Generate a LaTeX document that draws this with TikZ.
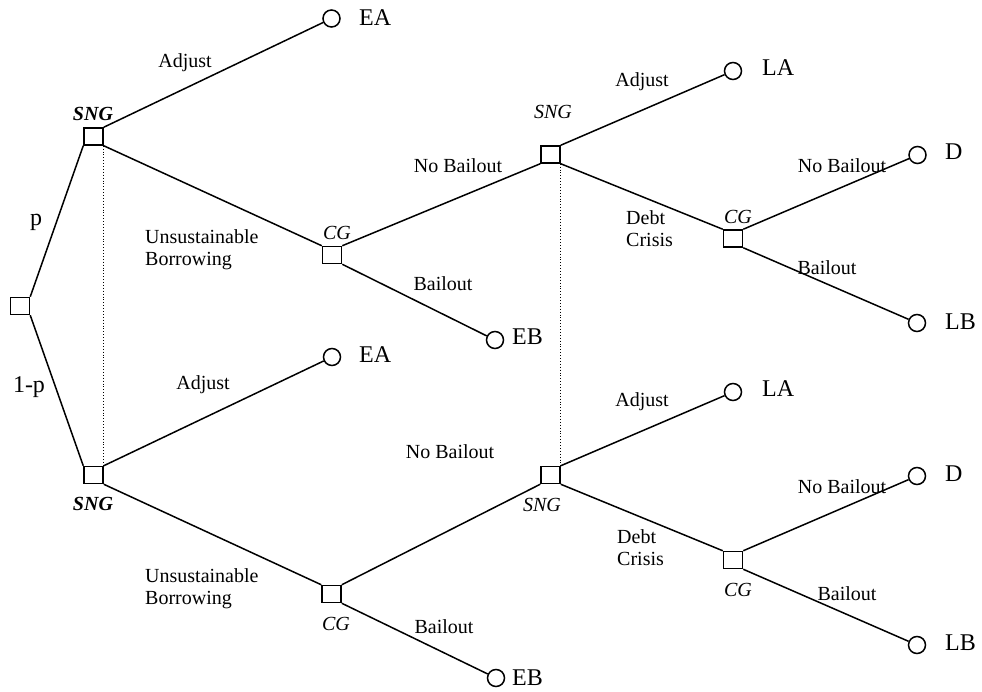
\documentclass[tikz,border=0pt]{standalone}
\usepackage{fontspec}
\setmainfont{Liberation Serif}
\begin{document}
\begin{tikzpicture}[x=1pt,y=-1pt,
 sq/.style={draw,line width=1.5pt,minimum width=19pt,minimum height=17pt,inner sep=0pt},
 term/.style={draw,circle,line width=1.5pt,minimum size=17pt,inner sep=0pt},
 br/.style={line width=1.5pt},
 info/.style={dotted,line width=0.9pt},
 lab/.style={inner sep=0pt,font=\fontsize{20}{22}\selectfont},
 tlab/.style={inner sep=0pt,anchor=west,font=\fontsize{24}{26}\selectfont},
 pl/.style={inner sep=0pt,font=\fontsize{20}{22}\selectfont\itshape},
 plb/.style={inner sep=0pt,font=\fontsize{20}{22}\selectfont\bfseries\itshape},
 ml/.style={inner sep=0pt,anchor=west,align=left,font=\fontsize{20}{22}\selectfont}]
\useasboundingbox (0,0) rectangle (982,692);

% decision squares
\node[sq] (r)  at (20,306) {};
\node[sq] (s1) at (93.5,136.5) {};
\node[sq] (s2) at (93.5,475) {};
\node[sq] (c1) at (332,255) {};
\node[sq] (c2) at (331.5,594) {};
\node[sq] (m1) at (550.5,154.5) {};
\node[sq] (m2) at (550.5,475) {};
\node[sq] (k1) at (733,238.5) {};
\node[sq] (k2) at (733,560) {};

% terminal circles
\node[term] (ea1) at (331.5,18.5) {};
\node[term] (eb1) at (495,340) {};
\node[term] (la1) at (733,71) {};
\node[term] (d1)  at (917.5,155) {};
\node[term] (lb1) at (917,323) {};
\node[term] (ea2) at (332,357) {};
\node[term] (eb2) at (496,678) {};
\node[term] (la2) at (733,392) {};
\node[term] (d2)  at (917,476) {};
\node[term] (lb2) at (917,645) {};

% terminal labels
\node[tlab] (tea1) at (359,18) {EA};
\node[tlab] (teb1) at (512,337) {EB};
\node[tlab] (tla1) at (762,68) {LA};
\node[tlab] (td1)  at (945,152) {D};
\node[tlab] (tlb1) at (945,322) {LB};
\node[tlab] (tea2) at (359,355) {EA};
\node[tlab] (teb2) at (512,678) {EB};
\node[tlab] (tla2) at (762,389) {LA};
\node[tlab] (td2)  at (945,474) {D};
\node[tlab] (tlb2) at (945,643) {LB};

% branches
\draw[br] (r.north east) -- (s1.south west);
\draw[br] (r.south east) -- (s2.north west);
\draw[br] (s1.north east) -- (ea1);
\draw[br] (s1.south east) -- (c1.north west);
\draw[br] (c1.north east) -- (m1.south west);
\draw[br] (c1.south east) -- (eb1);
\draw[br] (m1.north east) -- (la1);
\draw[br] (m1.south east) -- (k1.north west);
\draw[br] (k1.north east) -- (d1);
\draw[br] (k1.south east) -- (lb1);
\draw[br] (s2.north east) -- (ea2);
\draw[br] (s2.south east) -- (c2.north west);
\draw[br] (c2.north east) -- (m2.south west);
\draw[br] (c2.south east) -- (eb2);
\draw[br] (m2.north east) -- (la2);
\draw[br] (m2.south east) -- (k2.north west);
\draw[br] (k2.north east) -- (d2);
\draw[br] (k2.south east) -- (lb2);

% information sets
\draw[info] (s1.south east) -- (s2.north east);
\draw[info] (m1.south east) -- (m2.north east);

% player labels
\node[plb] (ps1) at (93,114) {SNG};
\node[plb] (ps2) at (93,504) {SNG};
\node[pl] (pc1) at (337,233) {CG};
\node[pl] (pc2) at (336,624) {CG};
\node[pl] (pm1) at (553,112) {SNG};
\node[pl] (pm2) at (542,505) {SNG};
\node[pl] (pk1) at (738,217) {CG};
\node[pl] (pk2) at (738,590) {CG};

% probabilities
\node[inner sep=0pt,font=\fontsize{24}{26}\selectfont] (pp) at (36,222) {p};
\node[inner sep=0pt,font=\fontsize{24}{26}\selectfont] (pq) at (29,387) {1-p};

% action labels
\node[lab] (a1) at (185,63) {Adjust};
\node[ml] (u1) at (145,250) {Unsustainable\\Borrowing};
\node[lab] (nb1) at (458,166) {No Bailout};
\node[lab] (b1) at (443,284) {Bailout};
\node[lab] (a2) at (642,82) {Adjust};
\node[ml] (dc1) at (626,229) {Debt\\Crisis};
\node[lab] (nb2) at (842,166) {No Bailout};
\node[lab] (b2) at (827,268) {Bailout};

\node[lab] (a3) at (203,385) {Adjust};
\node[ml] (u2) at (145,589) {Unsustainable\\Borrowing};
\node[lab] (nb3) at (450,452) {No Bailout};
\node[lab] (b3) at (444,627) {Bailout};
\node[lab] (a4) at (642,402) {Adjust};
\node[ml] (dc2) at (617,548) {Debt\\Crisis};
\node[lab] (nb4) at (842,487) {No Bailout};
\node[lab] (b4) at (847,594) {Bailout};
\end{tikzpicture}
\end{document}
